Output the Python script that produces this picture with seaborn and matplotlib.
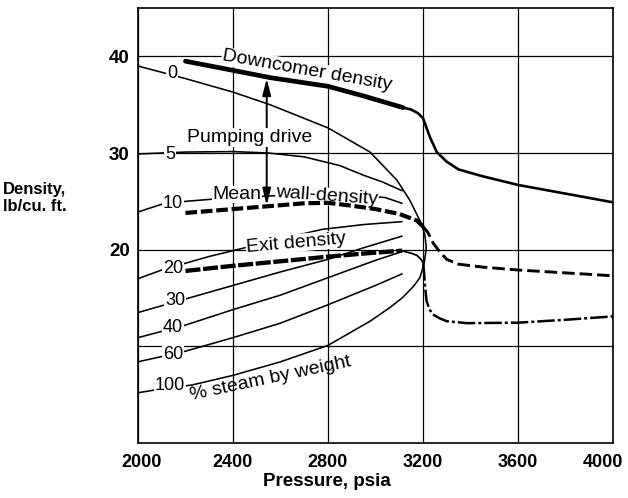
import matplotlib
matplotlib.use("Agg")
import matplotlib.pyplot as plt
import matplotlib.transforms as mtrans
import seaborn as sns

# --- Pressure (psia) / density (lb/cu. ft.) readings -----------------------
# Downcomer density: heavy part, then the lighter supercritical tail
downcomer_p = [2200, 2400, 2556, 2800, 2950, 3116]
downcomer_rho = [39.5, 38.55, 37.8, 36.9, 35.9, 34.7]
downcomer_tail_p = [3116, 3150, 3180, 3200, 3215, 3230, 3258, 3300, 3350, 3450, 3600, 3800, 4000]
downcomer_tail_rho = [34.7, 34.5, 34.1, 33.6, 32.6, 31.6, 30.1, 29.1, 28.3, 27.6, 26.7, 25.8, 24.9]

# Mean wall density
wall_p = [2200, 2400, 2550, 2700, 2800, 2900, 3000, 3100, 3175, 3200]
wall_rho = [23.8, 24.2, 24.5, 24.8, 24.85, 24.55, 24.2, 23.7, 23.0, 22.4]
wall_tail_p = [3200, 3220, 3245, 3270, 3300, 3350, 3450, 3600, 3800, 4000]
wall_tail_rho = [22.4, 21.8, 20.6, 19.8, 19.0, 18.5, 18.2, 17.9, 17.6, 17.3]

# Exit density
exit_p = [2200, 2387, 2600, 2787, 2950, 3112]
exit_rho = [17.8, 18.3, 18.8, 19.25, 19.6, 19.9]
exit_bend_p = [3112, 3131, 3155, 3175, 3192, 3201]
exit_bend_rho = [19.9, 19.75, 19.6, 19.4, 19.0, 18.6]
exit_tail_p = [3201, 3205, 3208, 3215, 3228, 3242, 3270, 3300, 3385, 3600, 3800, 4000]
exit_tail_rho = [18.6, 17.5, 16.4, 14.7, 13.8, 13.3, 12.9, 12.6, 12.4, 12.45, 12.75, 13.1]

# Constant-quality lines, % steam by weight
steam_pct = ["0", "5", "10", "20", "30", "40", "60", "100"]
q0_p = [2000, 2200, 2400, 2556, 2800, 2977, 3090, 3145, 3175, 3195, 3208, 3214]
q0_rho = [39.0, 37.7, 36.3, 35.0, 32.6, 30.1, 27.2, 25.1, 23.6, 22.6, 21.5, 20.2]
q5_p = [2000, 2200, 2400, 2550, 2700, 2850, 2950, 3030, 3112]
q5_rho = [29.9, 30.1, 30.15, 30.0, 29.6, 28.7, 27.7, 27.0, 26.1]
q10_p = [2000, 2100, 2200, 2300, 2500, 2700, 2900, 3040, 3112]
q10_rho = [23.9, 24.7, 25.0, 25.2, 25.5, 25.7, 25.6, 25.4, 24.8]
q20_p = [2000, 2100, 2200, 2300, 2450, 2600, 2775, 2950, 3112]
q20_rho = [17.0, 17.9, 18.6, 19.3, 20.2, 21.1, 22.1, 22.6, 22.9]
q30_p = [2000, 2200, 2400, 2600, 2800, 2950, 3112]
q30_rho = [13.5, 14.9, 16.3, 17.7, 19.0, 20.2, 21.4]
q40_p = [2000, 2200, 2400, 2600, 2800, 3000, 3112]
q40_rho = [10.9, 12.2, 13.8, 15.3, 17.1, 18.9, 19.8]
q60_p = [2000, 2200, 2400, 2600, 2800, 3000, 3112]
q60_rho = [8.4, 9.5, 10.9, 12.4, 14.3, 16.3, 17.5]
q100_p = [2000, 2100, 2227, 2400, 2600, 2800, 2977, 3060, 3112, 3160, 3187, 3205, 3214]
q100_rho = [5.2, 5.6, 6.0, 7.0, 8.4, 10.1, 12.6, 14.0, 15.0, 16.2, 17.1, 18.6, 20.2]

# Pumping drive: pressure where the head is shown, downcomer and wall ends
drive_p = 2542
drive_top = 37.7
drive_bottom = 24.6

x_ticks = [2000, 2400, 2800, 3200, 3600, 4000]
y_ticks = [10, 20, 30, 40]
y_tick_labels = ["", "20", "30", "40"]

# --- Figure -------------------------------------------------------------------
sns.set_theme(style="white")
plt.rcParams["font.family"] = ["Liberation Sans", "DejaVu Sans"]
for key in ["text.color", "axes.labelcolor", "xtick.color", "ytick.color",
            "axes.edgecolor"]:
    plt.rcParams[key] = "black"

fig = plt.figure(figsize=(6.28, 4.98), dpi=100)
ax = fig.add_axes([0.2197, 0.1104, 0.7564, 0.8735])


def curve(p, rho, lw, ls="-", z=3):
    sns.lineplot(x=p, y=rho, ax=ax, color="black", linewidth=lw,
                 linestyle=ls, estimator=None, sort=False, zorder=z)


# quality fan
for p, rho in [(q0_p, q0_rho), (q5_p, q5_rho), (q10_p, q10_rho), (q20_p, q20_rho),
               (q30_p, q30_rho), (q40_p, q40_rho), (q60_p, q60_rho), (q100_p, q100_rho)]:
    curve(p, rho, 1.15)

# heavy density curves
curve(downcomer_p, downcomer_rho, 3.4, z=6)
curve(downcomer_tail_p, downcomer_tail_rho, 1.9, z=6)
curve(wall_p, wall_rho, 3.0, (0, (2.8, 0.9)), z=6)
curve(wall_tail_p, wall_tail_rho, 2.1, (0, (4.3, 1.7)), z=6)
curve(exit_p, exit_rho, 3.1, (0, (3.5, 0.6)), z=6)
curve(exit_bend_p, exit_bend_rho, 1.3, z=6)
curve(exit_tail_p, exit_tail_rho, 1.8, (0, (7, 1.2, 1.2, 1.2)), z=6)

# pumping-drive arrow
ax.annotate("", xy=(drive_p, drive_top), xytext=(drive_p, drive_bottom),
            arrowprops=dict(arrowstyle="<|-|>,head_length=0.55,head_width=0.14",
                            mutation_scale=18, color="black", lw=1.4,
                            shrinkA=0, shrinkB=0), zorder=3)

box = dict(facecolor="white", edgecolor="none", pad=0.6)
tight_box = dict(facecolor="white", edgecolor="none", pad=0.3)

# quality labels on the fan
label_pos = [(2143, 38.2), (2135, 29.8), (2147, 24.8), (2147, 18.1),
             (2156, 14.7), (2147, 11.9), (2147, 9.2), (2135, 6.0)]
for txt, (px, py) in zip(steam_pct, label_pos):
    ax.text(px, py, txt, fontsize=13, ha="center", va="center",
            bbox=box, zorder=5)

ax.text(2712, 38.5, "Downcomer density", fontsize=14, rotation=-10,
        ha="center", va="center", bbox=box, zorder=5, rotation_mode="anchor")
ax.text(2472, 31.6, "Pumping drive", fontsize=14, ha="center", va="center",
        bbox=box, zorder=5)
ax.text(2417, 25.7, "Mean", fontsize=14, ha="center", va="center",
        bbox=tight_box, zorder=5)
ax.text(2796, 25.5, "wall-density", fontsize=14, rotation=-4, ha="center",
        va="center", bbox=tight_box, zorder=5, rotation_mode="anchor")
ax.text(2665, 20.7, "Exit density", fontsize=14, rotation=5, ha="center",
        va="center", bbox=tight_box, zorder=5, rotation_mode="anchor")
ax.text(2560, 6.7, "% steam by weight", fontsize=14, rotation=12,
        ha="center", va="center", zorder=5, rotation_mode="anchor")

# axes, grid and labels
ax.set_xlim(2000, 4000)
ax.set_ylim(0, 45)
ax.set_xticks(x_ticks)
ax.set_yticks(y_ticks)
ax.set_yticklabels(y_tick_labels)
ax.set_axisbelow(True)
ax.grid(True, color="black", linewidth=0.9)
for s in ax.spines.values():
    s.set_visible(True)
    s.set_color("black")
    s.set_linewidth(1.2)
ax.tick_params(axis="x", length=0, pad=8, labelsize=13)
ax.tick_params(axis="y", length=0, pad=6, labelsize=13.5)
for lab in ax.get_xticklabels() + ax.get_yticklabels():
    lab.set_fontweight("bold")

# keep the end labels of the pressure scale inside the frame
xlabels = ax.get_xticklabels()
xlabels[0].set_transform(xlabels[0].get_transform()
                         + mtrans.ScaledTranslation(0.04, 0, fig.dpi_scale_trans))
xlabels[-1].set_transform(xlabels[-1].get_transform()
                          + mtrans.ScaledTranslation(-0.10, 0, fig.dpi_scale_trans))

ax.set_xlabel("Pressure, psia", fontsize=13.5, fontweight="bold", va="top")
ax.xaxis.set_label_coords(0.398, -0.068)
ax.set_ylabel("Density,\nlb/cu. ft.", fontsize=12, fontweight="bold",
              rotation=0, ha="center", va="center", multialignment="center")
ax.yaxis.set_label_coords(-0.217, 0.563)

fig.savefig("out.png", dpi=100, facecolor="white")
